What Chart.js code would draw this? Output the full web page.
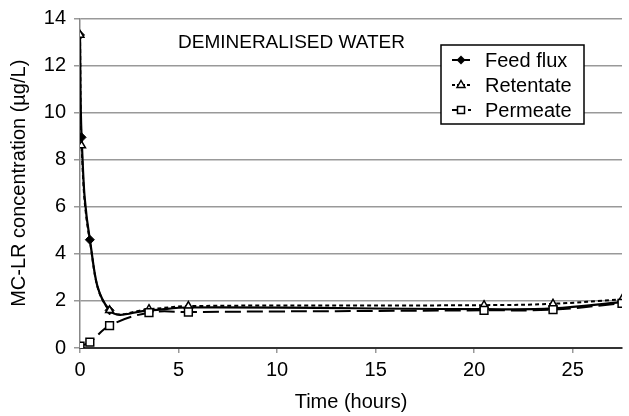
<!DOCTYPE html>
<html>
<head>
<meta charset="utf-8">
<script src="https://cdn.jsdelivr.net/npm/chart.js@4.4.0/dist/chart.umd.min.js"></script>
<style>
  html, body { margin: 0; padding: 0; background: #fff; }
  #wrap { width: 629px; height: 416px; }
</style>
</head>
<body>
<div id="wrap"><canvas id="myChart" width="629" height="416"></canvas></div>
<script>
// values (time in hours, MC-LR in ug/L)
var feedTime = [0, 0.08, 0.5, 1.5, 3.5, 5.5, 20.5, 24, 27.5];
var feedFlux = [13.3, 8.95, 4.6, 1.6, 1.6, 1.72, 1.65, 1.68, 1.95];
var retentateTime = [0, 0.08, 0.5, 1.5, 3.5, 5.5, 20.5, 24, 27.5];
var retentate = [13.3, 8.6, 4.55, 1.6, 1.65, 1.78, 1.82, 1.88, 2.07];
var permeateTime = [0, 0.5, 1.5, 3.5, 5.5, 20.5, 24, 27.5];
var permeate = [0.08, 0.25, 0.95, 1.5, 1.53, 1.6, 1.63, 1.9];
var xTicks = [0, 5, 10, 15, 20, 25];
var yTicks = [0, 2, 4, 6, 8, 10, 12, 14];

var FONT = '"Liberation Sans", Arial, sans-serif';
Chart.defaults.font.family = FONT;
Chart.defaults.color = '#000';

function pts(xs, ys) {
  return xs.map(function (x, i) { return { x: x, y: ys[i] }; });
}

// small marker helper, used for the legend box
function marker(c, style, x, y) {
  c.save();
  c.lineWidth = 1.5;
  c.strokeStyle = '#000';
  c.setLineDash([]);
  c.beginPath();
  if (style == 'diamond') {
    c.moveTo(x, y - 4.5); c.lineTo(x + 4.5, y); c.lineTo(x, y + 4.5); c.lineTo(x - 4.5, y);
    c.closePath(); c.fillStyle = '#000'; c.fill();
  } else if (style == 'triangle') {
    c.moveTo(x, y - 4.5); c.lineTo(x + 4, y + 2.5); c.lineTo(x - 4, y + 2.5);
    c.closePath(); c.fillStyle = '#fff'; c.fill(); c.stroke();
  } else {
    c.rect(x - 3.5, y - 3.5, 7, 7); c.fillStyle = '#fff'; c.fill(); c.stroke();
  }
  c.restore();
}

var boxLegend = {
  id: 'boxLegend',
  afterDraw: function (chart) {
    var c = chart.ctx, a = chart.chartArea;
    var x = a.right - 181, y = a.top + 26.5, w = 143, h = 79;
    c.save();
    c.fillStyle = '#fff';
    c.fillRect(x, y, w, h);
    c.strokeStyle = '#000';
    c.lineWidth = 1.5;
    c.strokeRect(x, y, w, h);

    var rows = [
      { label: 'Feed flux', dy: 15, style: 'diamond' },
      { label: 'Retentate', dy: 40, style: 'triangle' },
      { label: 'Permeate', dy: 65, style: 'square' }
    ];
    rows.forEach(function (r) {
      var ly = y + r.dy, mx = x + 20;
      c.strokeStyle = '#000';
      c.lineWidth = 2;
      c.beginPath();
      if (r.style == 'diamond') {
        c.setLineDash([]);
        c.moveTo(x + 11, ly); c.lineTo(x + 29, ly);
      } else if (r.style == 'triangle') {
        c.setLineDash([3, 2]);
        c.moveTo(x + 11, ly); c.lineTo(x + 29, ly);
      } else {
        c.setLineDash([]);
        c.moveTo(x + 11, ly); c.lineTo(x + 16, ly);
        c.moveTo(x + 27, ly); c.lineTo(x + 30, ly);
      }
      c.stroke();
      marker(c, r.style, mx, ly);
      c.fillStyle = '#000';
      c.font = '20px ' + FONT;
      c.textBaseline = 'middle';
      c.textAlign = 'left';
      c.fillText(r.label, x + 44, ly + 1);
    });
    c.restore();
  }
};

var plotNote = {
  id: 'plotNote',
  afterDatasetsDraw: function (chart) {
    var c = chart.ctx, a = chart.chartArea;
    c.save();
    c.fillStyle = '#000';
    c.font = '19px ' + FONT;
    c.textBaseline = 'middle';
    c.textAlign = 'left';
    c.fillText('DEMINERALISED WATER', a.left + 98, a.top + 24);
    c.restore();
  }
};

var ctx = document.getElementById('myChart');

var myChart = new Chart(ctx, {
  type: 'line',
  data: {
    datasets: [{
      label: 'Feed flux',
      data: pts(feedTime, feedFlux),
      borderColor: '#000',
      borderWidth: 2.2,
      backgroundColor: '#000',
      pointStyle: 'rectRot',
      pointRadius: function (c) { return c.dataIndex < 4 ? 4.5 : 0; },
      pointBorderWidth: 1,
      pointBackgroundColor: '#000',
      tension: 0.4,
      order: 3
    }, {
      label: 'Retentate',
      data: pts(retentateTime, retentate),
      borderColor: '#000',
      borderWidth: 2,
      borderDash: [4, 3],
      pointStyle: 'triangle',
      pointRadius: function (c) { return c.dataIndex == 2 ? 0 : 4.5; },
      pointBorderWidth: 1.5,
      pointBackgroundColor: '#fff',
      tension: 0.4,
      order: 2
    }, {
      label: 'Permeate',
      data: pts(permeateTime, permeate),
      borderColor: '#000',
      borderWidth: 2,
      borderDash: [16, 6],
      pointStyle: 'rect',
      pointRadius: 5.5,
      pointBorderWidth: 1.5,
      pointBackgroundColor: '#fff',
      tension: 0.4,
      order: 1
    }]
  },
  options: {
    responsive: false,
    animation: false,
    devicePixelRatio: 1,
    layout: { padding: { left: 0, top: 18.5, right: 4, bottom: 0 } },
    plugins: {
      legend: { display: false },
      tooltip: { enabled: false }
    },
    scales: {
      x: {
        type: 'linear',
        min: 0,
        max: 27.5,
        afterBuildTicks: function (s) { s.ticks = xTicks.map(function (v) { return { value: v }; }); },
        afterFit: function (s) { s.height = 68; s.paddingLeft = 0; s.paddingRight = 0; },
        grid: { drawOnChartArea: false, drawTicks: true, tickLength: 5, color: '#999', lineWidth: 1.5 },
        border: { color: '#333', width: 2 },
        ticks: { font: { size: 20 }, padding: 5, maxRotation: 0 },
        title: { display: true, text: 'Time (hours)', font: { size: 20 }, padding: { top: 0, bottom: 2 } }
      },
      y: {
        min: 0,
        max: 14,
        afterBuildTicks: function (s) { s.ticks = yTicks.map(function (v) { return { value: v }; }); },
        afterFit: function (s) { s.width = 80; s.paddingTop = 0; s.paddingBottom = 0; },
        grid: { color: '#999', lineWidth: 1.5, tickLength: 6 },
        border: { color: '#888', width: 1.5 },
        ticks: { font: { size: 20 }, padding: 8 },
        title: { display: true, text: 'MC-LR concentration (µg/L)', font: { size: 20 }, padding: { top: 7, bottom: 0 } }
      }
    }
  },
  plugins: [plotNote, boxLegend]
});
</script>
</body>
</html>
